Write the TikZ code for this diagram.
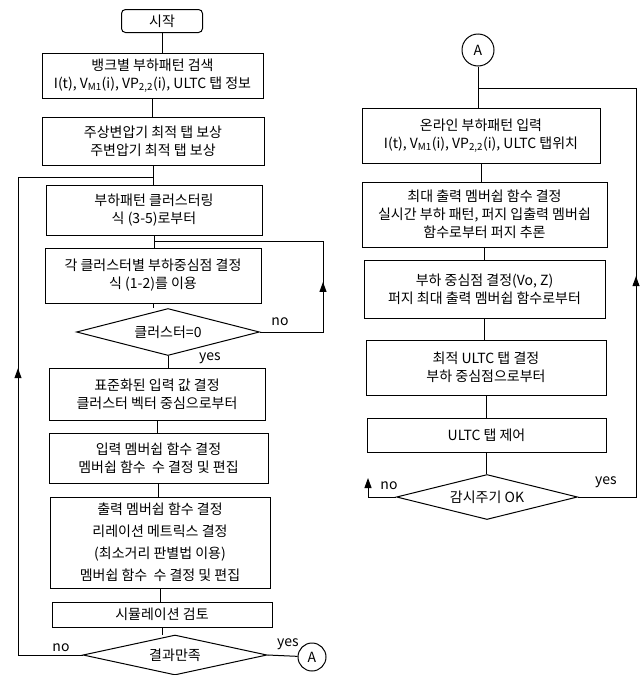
\documentclass[tikz,border=0pt]{standalone}
\usepackage{fontspec}
\setmainfont{Noto Sans CJK KR}
\usetikzlibrary{shapes.geometric, arrows, positioning, calc, arrows.meta}
\tikzstyle{box} = [rectangle, draw, line width=1pt, align=center, inner sep=0pt, font=\fontsize{14}{18}\selectfont]
\tikzstyle{startbox} = [box, rounded corners=4pt]
\tikzstyle{decision} = [diamond, draw, line width=1pt, inner sep=0pt, font=\fontsize{14}{16}\selectfont]
\tikzstyle{conn} = [circle, draw, line width=1pt, minimum size=28pt, inner sep=0pt, font=\fontsize{14}{16}\selectfont]
\tikzstyle{lbl} = [inner sep=0pt, font=\fontsize{14}{16}\selectfont]
\tikzstyle{arrow} = [line width=1pt,-{Triangle[length=10pt,width=7pt]}]
\tikzstyle{line} = [line width=1pt]

\begin{document}
\begin{tikzpicture}[x=1pt, y=-1pt]
  \useasboundingbox (0,0) rectangle (643,675);

  % Left column: clustering and membership design
  \node (start) [startbox, minimum width=81pt, minimum height=23pt] at (162,21) {시작};
  \node (b1) [box, minimum width=221pt, minimum height=45pt] at (152.5,75.5)
    {뱅크별 부하패턴 검색\\I(t), V\textsubscript{M1}(i), VP\textsubscript{2,2}(i), ULTC 탭 정보};
  \node (b2) [box, minimum width=222pt, minimum height=48pt] at (153,141)
    {주상변압기 최적 탭 보상\\주변압기 최적 탭 보상};
  \node (b3) [box, minimum width=216pt, minimum height=50pt] at (154,210)
    {부하패턴 클러스터링\\식 (3-5)로부터};
  \node (b4) [box, minimum width=216pt, minimum height=55pt] at (153,275.5)
    {각 클러스터별 부하중심점 결정\\식 (1-2)를 이용};
  \node (d1) [decision, aspect=3.9, minimum width=183pt, minimum height=47pt] at (168,332) {클러스터=0};
  \node (b5) [box, minimum width=216pt, minimum height=52pt] at (157,394)
    {표준화된 입력 값 결정\\클러스터 벡터 중심으로부터};
  \node (b6) [box, minimum width=219pt, minimum height=50pt] at (158.5,458)
    {입력 멤버쉽 함수 결정\\멤버쉽 함수~~수 결정 및 편집};
  \node (b7) [box, minimum width=220pt, minimum height=91pt] at (160,542.5)
    {출력 멤버쉽 함수 결정\\[4pt]리레이션 메트릭스 결정\\[4pt](최소거리 판별법 이용)\\[4pt]멤버쉽 함수~~수 결정 및 편집};
  \node (b8) [box, minimum width=220pt, minimum height=25pt] at (162,614.5) {시뮬레이션 검토};
  \node (d2) [decision, aspect=4.6, minimum width=184pt, minimum height=40pt] at (175,655) {결과만족};
  \node (a1) [conn] at (312,657) {A};

  % Right column: on-line control
  \node (a2) [conn, minimum size=32pt] at (478,50) {A};
  \node (r1) [box, minimum width=238pt, minimum height=55pt] at (481,135.5)
    {온라인 부하패턴 입력\\I(t), V\textsubscript{M1}(i), VP\textsubscript{2,2}(i), ULTC 탭위치};
  \node (r2) [box, minimum width=245pt, minimum height=65pt] at (484.5,214.5)
    {최대 출력 멤버쉽 함수 결정\\실시간 부하 패턴, 퍼지 입출력 멤버쉽\\함수로부터 퍼지 추론};
  \node (r3) [box, minimum width=241pt, minimum height=58pt] at (484.5,289)
    {부하 중심점 결정(Vo, Z)\\퍼지 최대 출력 멤버쉽 함수로부터};
  \node (r4) [box, minimum width=240pt, minimum height=55pt] at (486,367.5)
    {최적 ULTC 탭 결정\\부하 중심점으로부터};
  \node (r5) [box, minimum width=239pt, minimum height=34pt] at (486.5,435) {ULTC 탭 제어};
  \node (d3) [decision, aspect=4, minimum width=181pt, minimum height=45pt] at (487,497) {감시주기 OK};

  % Branch labels
  \node (no1) [lbl] at (280,322) {no};
  \node (yes1) [lbl] at (210,358) {yes};
  \node (no2) [lbl] at (61,648) {no};
  \node (yes2) [lbl] at (288,644) {yes};
  \node (no3) [lbl] at (389,486) {no};
  \node (yes3) [lbl] at (606,482) {yes};

  % Loop corners
  \coordinate (lt) at (18,177);
  \coordinate (lb) at (18,655);
  \coordinate (rt) at (323,241);
  \coordinate (qt) at (636,88);
  \coordinate (nq) at (368,478);

  % Left connections
  \draw[line] (start) -- (start |- b1.north);
  \draw[line] (b1.south) -- (b1.south |- b2.north);
  \draw[line] (b2.south) -- (b2.south |- b3.north);
  \draw[line] (b3.south) -- (b3.south |- b4.north);
  \draw[line] (b4.south) -- (b4.south |- d1.north);
  \draw[line] (d1.south) -- (d1.south |- b5.north);
  \draw[line] (b5.south) -- (b5.south |- b6.north);
  \draw[line] (b6.south) -- (b6.south |- b7.north);
  \draw[line] (b7.south) -- (b7.south |- b8.north);
  \draw[line] (b8.south) -- (b8.south |- d2.north);
  \draw[line] (d2.east) -- (a1);

  % Cluster loop (no)
  \draw[line] (d1.east) -- (d1.east -| rt) -- (rt) -- (b3.south |- rt);
  \draw[arrow] (d1.east -| rt) -- ($(d1.east -| rt)!0.55!(rt)$);

  % Result loop (no)
  \draw[line] (d2.west) -- (lb) -- (lt) -- (b2.south |- lt);
  \draw[arrow] (lb) -- ($(lb)!0.6!(lt)$);

  % Right connections
  \draw[line] (a2.south) -- (a2.south |- r1.north);
  \draw[line] (r1.south) -- (r1.south |- r2.north);
  \draw[line] (r2.south) -- (r2.south |- r3.north);
  \draw[line] (r3.south) -- (r3.south |- r4.north);
  \draw[line] (r4.south) -- (r4.south |- r5.north);
  \draw[line] (r5.south) -- (r5.south |- d3.north);

  % Monitoring loop (yes)
  \draw[line] (d3.east) -- (d3.east -| qt) -- (qt) -- (a2.south |- qt);
  \draw[arrow] (d3.east -| qt) -- ($(d3.east -| qt)!0.54!(qt)$);
  \draw[arrow] (d3.west) -| (nq);
\end{tikzpicture}
\end{document}
